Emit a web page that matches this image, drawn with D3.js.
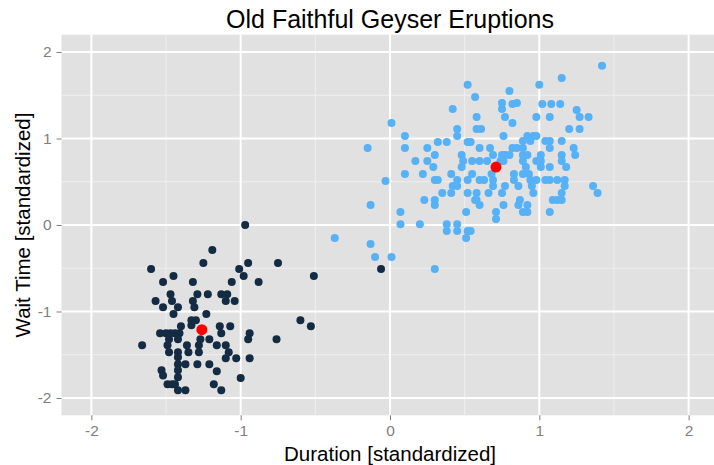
<!DOCTYPE html>
<html>
<head>
<meta charset="utf-8">
<script src="https://cdnjs.cloudflare.com/ajax/libs/d3/7.8.5/d3.min.js"></script>
<style>
  body { margin: 0; background: #fff; }
  svg { font-family: "Liberation Sans", Arial, Helvetica, sans-serif; }
</style>
</head>
<body>
<svg width="714" height="465"></svg>
<script>
// cluster 1 (short eruptions), standardized [duration, wait]
var shortDuration = [-1.19,-1.25,-1.60,-1.45,-1.52,-1.32,-1.06,-1.47,-1.29,-1.22,-1.13,-1.09,-1.57,-1.46,-1.32,-1.10,
  -0.97,-0.95,-0.75,-1.01,-0.98,-0.51,-0.88,-1.04,-0.60,-0.53,-1.07,-0.94,-0.95,-0.76,-1.08,-1.10,-1.03,-0.94,-1.00,
  -1.42,-1.31,-1.52,-1.45,-1.23,-1.33,-1.30,-1.40,-1.33,-1.14,-1.54,-1.50,-1.47,-1.44,-1.41,-1.13,-1.48,-1.42,-1.27,-1.21,
  -1.66,-1.49,-1.36,-1.28,-1.16,-1.10,-1.48,-1.42,-1.35,-1.28,-1.42,-1.42,-1.37,-1.29,-1.21,-1.42,-1.53,-1.52,-1.16,-1.42,
  -1.49,-1.46,-1.44,-1.18,-1.42,-1.37,-1.13,-0.06];
var shortWait = [-0.29,-0.44,-0.51,-0.59,-0.66,-0.66,-0.66,-0.80,-0.80,-0.80,-0.80,-0.80,-0.88,-0.88,-0.88,-0.88,
  0.00,-0.44,-0.44,-0.51,-0.59,-0.59,-0.66,-0.88,-1.10,-1.17,-1.17,-1.25,-1.32,-1.32,-1.47,-1.54,-1.54,-1.54,-1.77,
  -0.95,-0.95,-0.95,-1.03,-1.03,-1.10,-1.10,-1.17,-1.16,-1.17,-1.25,-1.25,-1.25,-1.25,-1.25,-1.25,-1.32,-1.32,-1.32,-1.32,
  -1.39,-1.39,-1.39,-1.39,-1.39,-1.39,-1.47,-1.47,-1.47,-1.47,-1.53,-1.61,-1.61,-1.61,-1.61,-1.68,-1.68,-1.74,-1.69,-1.76,
  -1.84,-1.84,-1.84,-1.84,-1.91,-1.91,-1.91,-0.51];

// cluster 2 (long eruptions)
var longDuration = [0.01,0.10,-0.15,0.10,0.17,0.52,0.57,0.80,0.75,0.82,0.42,0.75,0.58,0.77,0.82,0.45,0.45,0.58,0.61,0.76,
  0.32,0.38,0.52,0.54,0.25,0.60,0.67,0.30,0.48,0.69,0.75,0.77,0.80,0.25,0.49,0.55,0.60,0.65,0.74,0.76,
  1.42,1.15,1.00,0.85,1.02,1.08,1.14,1.25,0.98,1.07,1.27,1.33,1.20,1.27,0.92,0.96,0.98,0.89,0.94,1.04,1.07,1.15,
  0.82,0.85,0.89,1.07,1.23,0.89,0.92,1.01,1.15,1.24,0.89,0.98,1.01,1.15,
  0.91,1.01,1.07,1.18,0.83,0.89,0.93,0.83,0.94,0.98,1.04,1.07,1.12,1.17,0.86,0.95,1.17,1.36,0.96,1.15,1.39,
  0.87,1.09,1.12,1.15,0.86,0.92,0.89,0.92,1.07,
  0.29,0.22,0.30,0.32,0.41,0.48,0.55,0.68,0.45,0.52,0.60,0.63,0.69,0.42,0.45,0.69,0.77,0.35,0.41,0.52,0.58,0.66,0.75,
  0.23,0.30,0.57,0.58,0.30,0.60,0.76,0.51,0.71,0.71,0.20,0.38,0.38,0.45,0.45,0.52,0.54,0.51,0.30,
  0.10,-0.03,-0.13,0.07,0.07,-0.37,-0.13,-0.10,0.01];
var longWait = [1.18,1.03,0.89,0.89,0.74,1.62,1.48,1.55,1.41,1.40,1.34,1.34,1.25,1.25,1.18,1.11,1.03,1.11,1.11,1.03,
  0.96,0.96,0.96,0.96,0.89,0.89,0.89,0.81,0.81,0.81,0.81,0.81,0.81,0.74,0.74,0.74,0.74,0.74,0.74,0.74,
  1.84,1.70,1.62,1.41,1.40,1.40,1.40,1.33,1.25,1.25,1.25,1.25,1.11,1.11,1.03,1.03,1.03,0.97,0.97,0.97,0.97,0.97,
  0.89,0.89,0.89,0.89,0.89,0.81,0.81,0.81,0.81,0.81,0.74,0.74,0.74,0.74,
  0.67,0.67,0.67,0.67,0.59,0.59,0.59,0.52,0.52,0.52,0.52,0.52,0.52,0.52,0.45,0.45,0.45,0.45,0.37,0.37,0.37,
  0.29,0.29,0.29,0.29,0.23,0.23,0.15,0.15,0.15,
  0.67,0.59,0.52,0.52,0.59,0.67,0.59,0.59,0.52,0.52,0.52,0.52,0.52,0.45,0.45,0.45,0.45,0.37,0.37,0.37,0.37,0.37,0.37,
  0.29,0.29,0.29,0.29,0.23,0.23,0.23,0.15,0.15,0.07,0.01,0.01,-0.07,0.01,-0.07,-0.07,-0.07,-0.15,-0.51,
  0.59,0.51,0.23,0.15,0.01,-0.15,-0.22,-0.37,-0.37];

// k-means centres
var centerDuration = [-1.26, 0.71];
var centerWait = [-1.21, 0.67];

var tickValues = [-2, -1, 0, 1, 2];
var minorValues = [-1.5, -0.5, 0.5, 1.5];

var svg = d3.select("svg"),
    panelLeft = 61.5, panelRight = 718.5,
    panelTop = 34.7, panelBottom = 415.3;

var xScale = d3.scaleLinear().domain([-2.2, 2.2]).range([panelLeft, panelRight]),
    yScale = d3.scaleLinear().domain([-2.2, 2.2]).range([panelBottom, panelTop]);

svg.append("rect")
   .attr("x", panelLeft)
   .attr("y", panelTop)
   .attr("width", panelRight - panelLeft)
   .attr("height", panelBottom - panelTop)
   .attr("fill", "#e1e1e1");

var grid = svg.append("g");

grid.selectAll(".minor-x")
    .data(minorValues)
    .enter().append("line")
    .attr("x1", function(d) { return xScale(d); })
    .attr("x2", function(d) { return xScale(d); })
    .attr("y1", panelTop).attr("y2", panelBottom)
    .attr("stroke", "#efefef").attr("stroke-width", 1);

grid.selectAll(".minor-y")
    .data(minorValues)
    .enter().append("line")
    .attr("y1", function(d) { return yScale(d); })
    .attr("y2", function(d) { return yScale(d); })
    .attr("x1", panelLeft).attr("x2", panelRight)
    .attr("stroke", "#efefef").attr("stroke-width", 1);

grid.selectAll(".major-x")
    .data(tickValues)
    .enter().append("line")
    .attr("x1", function(d) { return xScale(d); })
    .attr("x2", function(d) { return xScale(d); })
    .attr("y1", panelTop).attr("y2", panelBottom)
    .attr("stroke", "#fff").attr("stroke-width", 2);

grid.selectAll(".major-y")
    .data(tickValues)
    .enter().append("line")
    .attr("y1", function(d) { return yScale(d); })
    .attr("y2", function(d) { return yScale(d); })
    .attr("x1", panelLeft).attr("x2", panelRight)
    .attr("stroke", "#fff").attr("stroke-width", 2);

// axes, ggplot style: grey ticks and labels, no domain line
var xAxis = svg.append("g")
   .attr("transform", "translate(0," + panelBottom + ")")
   .call(d3.axisBottom(xScale).tickValues(tickValues).tickSize(5).tickPadding(5)
         .tickFormat(function(d) { return d; }));

var yAxis = svg.append("g")
   .attr("transform", "translate(" + panelLeft + ",0)")
   .call(d3.axisLeft(yScale).tickValues(tickValues).tickSize(5).tickPadding(5)
         .tickFormat(function(d) { return d; }));

[xAxis, yAxis].forEach(function(a) {
    a.select(".domain").remove();
    a.selectAll(".tick line").attr("stroke", "#7f7f7f").attr("stroke-width", 1);
    a.selectAll(".tick text")
     .attr("fill", "#7f7f7f")
     .attr("font-size", "15.5px")
     .attr("font-family", "Liberation Sans, Arial, sans-serif");
});

var pts = svg.append("g");

pts.selectAll(".short")
   .data(d3.range(shortDuration.length))
   .enter().append("circle")
   .attr("cx", function(i) { return xScale(shortDuration[i]); })
   .attr("cy", function(i) { return yScale(shortWait[i]); })
   .attr("r", 4)
   .attr("fill", "#132b43");

pts.selectAll(".long")
   .data(d3.range(longDuration.length))
   .enter().append("circle")
   .attr("cx", function(i) { return xScale(longDuration[i]); })
   .attr("cy", function(i) { return yScale(longWait[i]); })
   .attr("r", 4)
   .attr("fill", "#56b1f7");

pts.selectAll(".center")
   .data(d3.range(centerDuration.length))
   .enter().append("circle")
   .attr("cx", function(i) { return xScale(centerDuration[i]); })
   .attr("cy", function(i) { return yScale(centerWait[i]); })
   .attr("r", 5.5)
   .attr("fill", "#ff0000");

svg.append("text")
   .attr("x", (panelLeft + panelRight) / 2)
   .attr("y", 28)
   .attr("text-anchor", "middle")
   .attr("font-size", "25px")
   .text("Old Faithful Geyser Eruptions");

svg.append("text")
   .attr("x", (panelLeft + panelRight) / 2)
   .attr("y", 461)
   .attr("text-anchor", "middle")
   .attr("font-size", "20.5px")
   .text("Duration [standardized]");

svg.append("text")
   .attr("transform", "translate(30," + yScale(0) + ") rotate(-90)")
   .attr("text-anchor", "middle")
   .attr("font-size", "20.5px")
   .text("Wait Time [standardized]");
</script>
</body>
</html>
